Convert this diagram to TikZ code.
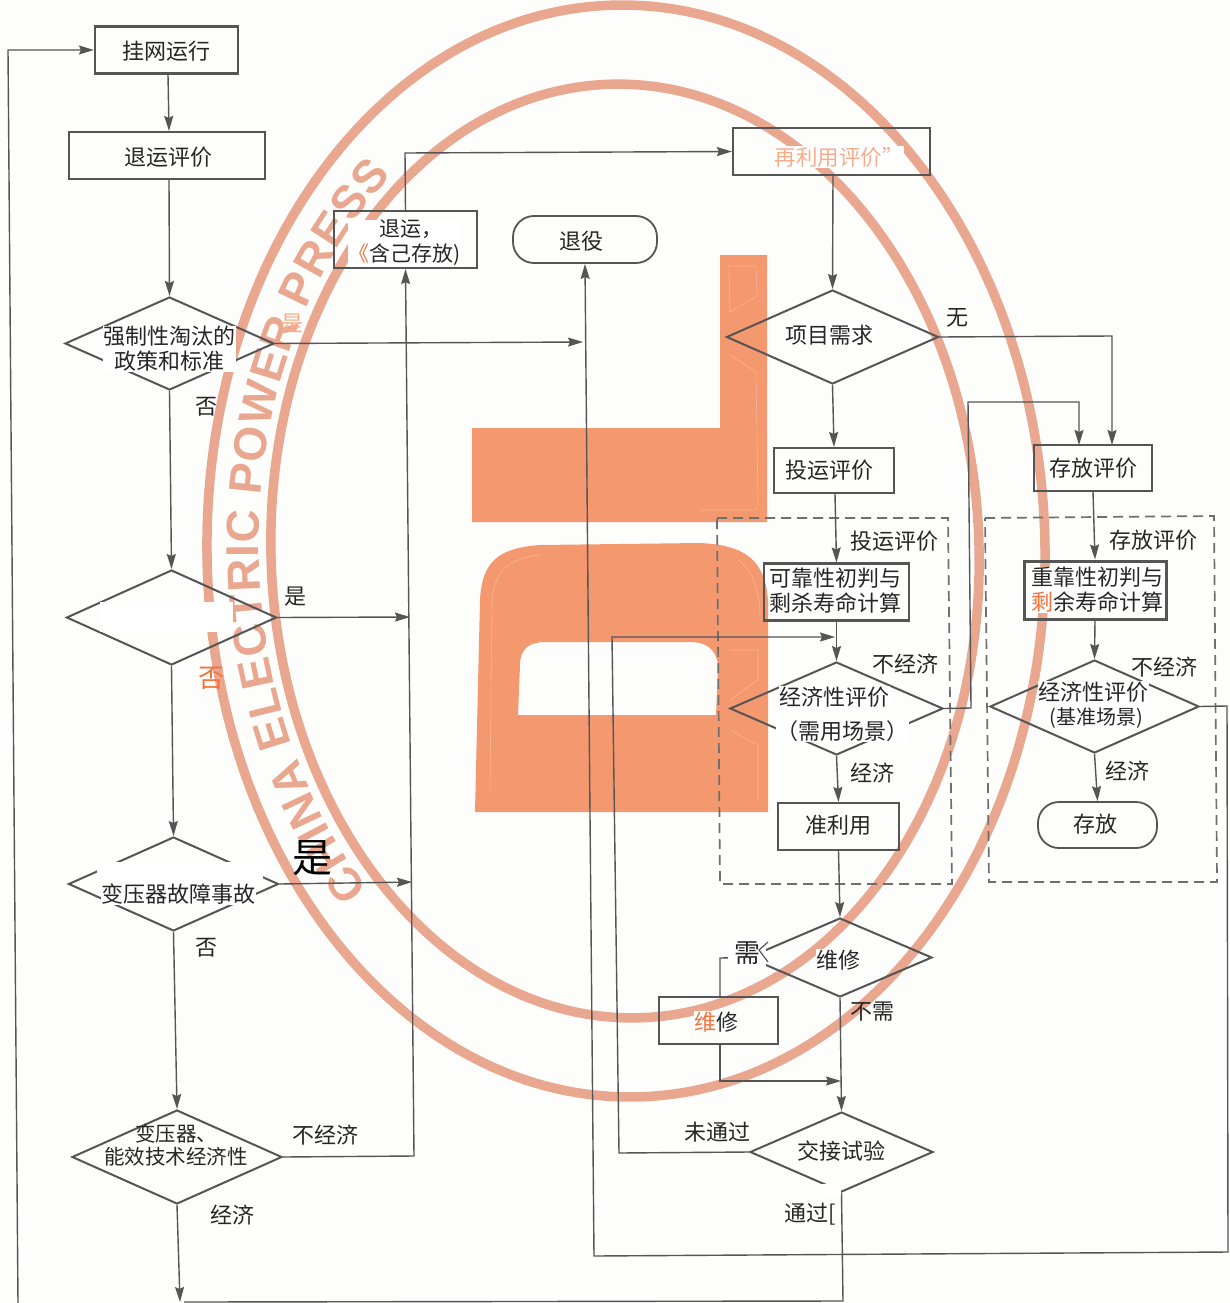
\documentclass[tikz,border=0pt]{standalone}
\usepackage{fontspec}
\usetikzlibrary{arrows.meta,shapes.geometric,decorations.text}
\setmainfont{Noto Sans CJK SC}
\newfontfamily\wmfont{Liberation Sans}
\definecolor{paper}{HTML}{FDFDFC}
\definecolor{ring}{HTML}{E9A78F}
\definecolor{logo}{HTML}{F4986F}
\definecolor{logoline}{HTML}{F8B593}
\definecolor{edge}{HTML}{555555}
\definecolor{ink}{HTML}{262626}
\definecolor{hot}{HTML}{F4723A}
\definecolor{pale}{HTML}{F9AC8A}
\tikzset{
  x=1pt,y=-1pt,
  boxn/.style 2 args={draw=edge,line width=2.2pt,minimum width=#1,minimum height=#2,inner sep=0pt},
  dian/.style 2 args={draw=edge,line width=2pt,diamond,aspect=2.2,minimum width=#1,minimum height=#2,inner sep=0pt},
  termn/.style 2 args={draw=edge,line width=1.8pt,minimum width=#1,minimum height=#2,inner sep=0pt,rounded corners=21pt},
  lbl/.style={text=ink,inner sep=0.5pt,font=\fontsize{22}{25}\selectfont,align=center},
  lblm/.style={lbl,fill=white},
  conn/.style={draw=edge,line width=1.4pt},
  arr/.style={conn,-{Stealth[length=15pt,width=9pt,inset=2pt]}},
  dashbox/.style={draw=edge!85,line width=1.7pt,dash pattern=on 10pt off 6pt},
}
\begin{document}
\begin{tikzpicture}
\useasboundingbox (0,0) rectangle (1229,1303);
\clip (0,0) rectangle (1229,1303);
\fill[paper] (0,0) rectangle (1229,1303);

% watermark
\draw[draw=ring,line width=9.5pt,rotate around={1:(626,551)}] (626,551) ellipse [x radius=419,y radius=546];
\draw[draw=ring,line width=9.5pt,rotate around={2:(625,551)}] (625,551) ellipse [x radius=354,y radius=467];
\path[decorate,rotate around={1.5:(625,551)},decoration={text along path,text align=fit to path,
   text={|\fontsize{46}{46}\wmfont\bfseries\color{ring}|CHINA ELECTRIC POWER PRESS}}]
   plot[domain=136.5:232.5,samples=70] ({625+366*cos(\x)},{551+481*sin(\x)});

% logo
\fill[logo] (472,428) -- (720,428) -- (720,255) -- (767,255) -- (767,522) -- (472,522) -- cycle;
\fill[logo,even odd rule] (475,812) -- (480,600) .. controls (482,560) and (500,548) .. (540,545)
   -- (700,543) .. controls (745,545) and (765,560) .. (768,600) -- (768,812) -- cycle
   (518,715) -- (716,715) -- (718,665) .. controls (716,648) and (705,642) .. (690,642)
   -- (545,642) .. controls (528,642) and (520,650) .. (520,665) -- cycle;
\draw[logoline,line width=.6pt] (729,266) -- (756,266) -- (757,296) -- (730,312) -- cycle;
\draw[logoline,line width=.6pt] (730,355) -- (756,372) -- (758,500) -- (756,510) -- (700,510);
\draw[logoline,line width=.6pt] (490,790) -- (492,600) .. controls (495,570) and (510,558) .. (540,555);
\draw[logoline,line width=.6pt] (738,560) .. controls (752,570) and (760,590) .. (760,615);
\draw[logoline,line width=.6pt] (730,650) -- (758,650) -- (758,680) -- (730,700);
\draw[logoline,line width=.6pt] (730,730) -- (758,745) -- (758,800);

% dashed groups
\draw[dashbox] (717,518) -- (948,518) -- (952,884) -- (720,884) -- cycle;
\draw[dashbox] (985,518) -- (1214,516) -- (1217,882) -- (989,882) -- cycle;

% shapes
\node[boxn={143pt}{47pt}] (top) at (166.5,50) {};
\node[boxn={196pt}{47pt}] (ret) at (167,155.5) {};
\node[boxn={197pt}{47pt}] (rb) at (831.5,151.5) {};
\node[boxn={143pt}{57pt}] (out) at (405.5,239.5) {};
\node[termn={144pt}{47pt}] (dec) at (585,239.5) {};
\node[dian={209pt}{93pt}] (d1) at (169.5,343.5) {};
\node[dian={210pt}{95pt}] (d3) at (171.5,617.5) {};
\node[dian={210pt}{94pt}] (d4) at (173.5,884) {};
\node[dian={210pt}{94pt}] (d5) at (177,1157) {};
\node[dian={212pt}{94pt}] (pj) at (832.5,337) {};
\node[boxn={120pt}{45pt}] (tyb) at (834,470.5) {};
\node[boxn={118pt}{46pt}] (cfb) at (1093,468) {};
\node[boxn={145pt}{57pt}] (kk) at (836.5,592) {};
\node[boxn={142pt}{58pt},line width=3pt] (zk) at (1095,590) {};
\node[dian={213pt}{93pt}] (de1) at (836.5,708.5) {};
\node[dian={209pt}{93pt}] (de2) at (1094.5,706.5) {};
\node[boxn={121pt}{47pt}] (zly) at (838.5,826.5) {};
\node[termn={119pt}{46pt}] (cf) at (1097.5,825) {};
\node[dian={184pt}{79pt}] (wx) at (840,957.5) {};
\node[boxn={119pt}{47pt}] (wxb) at (718.5,1020.5) {};
\node[dian={183pt}{80pt}] (jj) at (841.5,1152) {};

% free ends and bends
\coordinate (a1) at (583,342);
\coordinate (a3) at (410,617);
\coordinate (a4) at (412,882);
\coordinate (e5) at (180,1302);
\coordinate (b5) at (414,1156);
\coordinate (b6) at (405,153);
\coordinate (b7) at (1112,336);
\coordinate (a7) at (1112,445);
\coordinate (b8) at (971,708);
\coordinate (b9) at (968,402);
\coordinate (b10) at (1079,402);
\coordinate (a8) at (1079,445);
\coordinate (b11) at (1227,706);
\coordinate (b12) at (1228,1252);
\coordinate (b13) at (594,1256);
\coordinate (b14) at (720,958);
\coordinate (b15) at (720,1081);
\coordinate (a15) at (841,1081);
\coordinate (b16) at (619,1153);
\coordinate (b17) at (612,637);
\coordinate (a16) at (835,637);
\coordinate (b18) at (843,1301);
\coordinate (e18) at (184,1302);
\coordinate (s19) at (18,1303);
\coordinate (b19) at (8,50);

% connectors
\draw[arr] ([xshift=1.5pt]top.south) -- ([xshift=2pt]ret.north);
\draw[arr] ([xshift=2pt]ret.south) -- (d1.north);
\draw[arr] (d1.east) -- (a1);
\draw[arr] (d1.south) -- (d3.north);
\draw[arr] (d3.south) -- (d4.north);
\draw[arr] (d4.south) -- (d5.north);
\draw[arr] (d5.south) -- (e5);
\draw[arr] (d3.east) -- (a3);
\draw[arr] (d4.east) -- (a4);
\draw[arr] (d5.east) -- (b5) -- (out.south);
\draw[arr] (out.north) -- (b6) -- (rb.west);
\draw[arr] ([xshift=1.5pt]rb.south) -- (pj.north);
\draw[arr] (pj.south) -- (tyb.north);
\draw[arr] (pj.east) -- (b7) -- (a7);
\draw[arr] ([xshift=1pt]tyb.south) -- (kk.north);
\draw[arr] (kk.south) -- (de1.north);
\draw[arr] (de1.south) -- (zly.north);
\draw[arr] (zly.south) -- (wx.north);
\draw[arr] (de1.east) -- (b8) -- (b9) -- (b10) -- (a8);
\draw[arr] (cfb.south) -- (zk.north);
\draw[arr] (zk.south) -- (de2.north);
\draw[arr] (de2.south) -- (cf.north);
\draw[arr] (de2.east) -- (b11) -- (b12) -- (b13) -- (dec.south);
\draw[arr] (wx.south) -- (jj.north);
\draw[conn] (wx.west) -- (b14) -- ([xshift=1.5pt]wxb.north);
\draw[arr] ([xshift=1.5pt]wxb.south) -- (b15) -- (a15);
\draw[arr] (jj.west) -- (b16) -- (b17) -- (a16);
\draw[conn] (jj.south) -- (b18) -- (e18);
\draw[arr] (s19) -- (b19) -- (top.west);

% blank masks as in the source
\fill[white] (100,602) rectangle (233,632);
\fill[white] (97,862) rectangle (263,880);
\fill[white] (822,1183.5) rectangle (841,1196);

% texts
\node[lbl] (b1) at (166,51) {挂网运行};
\node[lbl] (b2) at (168,157) {退运评价};
\node[lbl] (b3) at (581,241) {退役};
\node[lbl] (b4) at (829,470) {投运评价};
\node[lbl] (b5t) at (1093,468) {存放评价};
\node[lbl] (b6t) at (838,825) {准利用};
\node[lbl] (b7t) at (1095,824) {存放};
\node[lblm] (t1) at (169,349) {强制性淘汰的\\政策和标准};
\node[lbl] (t2) at (206,407) {否};
\node[lbl,text=pale] (t3) at (292,324) {是};
\node[lbl] (t4) at (295,597) {是};
\node[lbl,text=hot,font=\fontsize{26}{28}\selectfont] (t5) at (211,678) {否};
\node[lblm] (t6) at (178,894) {变压器故障事故};
\node[lbl,text=black,font=\fontsize{40}{42}\selectfont] (t7) at (312,858) {是};
\node[lbl] (t8) at (206,948) {否};
\node[lbl,font=\fontsize{20.5}{23}\selectfont] (t9) at (176,1145) {变压器、\\能效技术经济性};
\node[lbl] (t10) at (325,1135) {不经济};
\node[lbl] (t11) at (232,1215) {经济};
\node[lblm,font=\fontsize{21}{25}\selectfont] (t12) at (405,243) {\hspace*{12pt}退运，\\{\color{hot}《}含己存放)};
\node[lblm,text=pale,font=\fontsize{21.5}{25}\selectfont] (t13) at (839,157) {再利用评价”};
\node[lblm] (t14) at (829,335) {项目需求};
\node[lbl] (t15) at (957,318) {无};
\node[lbl] (t16) at (894,541) {投运评价};
\node[lbl] (t17) at (1153,540) {存放评价};
\node[lblm] (t18) at (835,591) {可靠性初判与\\剩杀寿命计算};
\node[lblm] (t19) at (1097,590) {重靠性初判与\\{\color{hot}剩}余寿命计算};
\node[lblm] (t20) at (834,697) {经济性评价};
\node[lblm] (t21) at (842,731) {（需用场景）};
\node[lbl] (t22) at (905,664) {不经济};
\node[lbl] (t23) at (872,773) {经济};
\node[lblm] (t24) at (1093,692) {经济性评价};
\node[lblm,font=\fontsize{20}{23}\selectfont] (t25) at (1096,718) {(基准场景)};
\node[lbl] (t26) at (1164,667) {不经济};
\node[lbl] (t27) at (1127,771) {经济};
\node[lblm,minimum width=38pt,minimum height=32pt,font=\fontsize{26}{28}\selectfont] (t28) at (747,953) {需};
\node[lblm] (t29) at (838,960) {维修};
\node[lblm] (t30) at (716,1022) {{\color{hot}维}修};
\node[lbl] (t31) at (872,1012) {不需};
\node[lbl] (t32) at (717,1132) {未通过};
\node[lbl] (t33) at (841,1151) {交接试验};
\node[lbl] (t34) at (810,1214) {通过[};

% stub beside the mask of the label
\draw[edge,line width=1.2pt] (768,942) -- (759,950) -- (768,962);
\end{tikzpicture}
\end{document}
